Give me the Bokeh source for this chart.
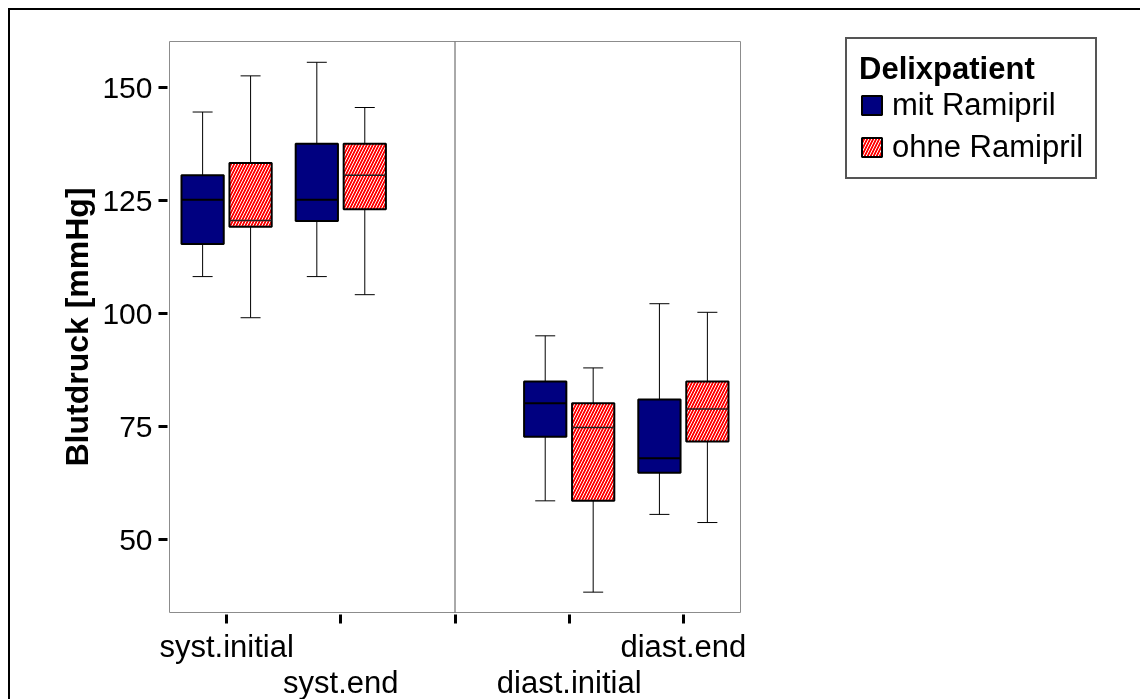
from bokeh.plotting import figure
from bokeh.models import (Range1d, FixedTicker, Span, Legend, LegendItem,
                          ColumnDataSource)
from bokeh.embed import file_html
from bokeh.resources import INLINE

# ---------------- data ----------------
categories = ["syst.initial", "syst.end", "diast.initial", "diast.end"]
cat_pos = [1, 2, 4, 5]          # position 3 is the empty separator slot
label_row = [0, 1, 1, 0]        # staggered tick labels: 0 = upper row, 1 = lower row
groups = ["mit Ramipril", "ohne Ramipril"]

mit_low = [108.2, 108.2, 58.6, 55.6]
mit_q1 = [115.4, 120.5, 72.8, 64.8]
mit_med = [125.2, 125.2, 80.2, 68.0]
mit_q3 = [130.6, 137.6, 85.0, 81.0]
mit_high = [144.6, 155.6, 95.1, 102.2]

ohne_low = [99.1, 104.2, 38.4, 53.8]
ohne_q1 = [119.2, 123.1, 58.6, 71.7]
ohne_med = [120.6, 130.6, 74.8, 78.9]
ohne_q3 = [133.3, 137.6, 80.2, 85.0]
ohne_high = [152.6, 145.6, 88.0, 100.3]

y_ticks = [50, 75, 100, 125, 150]
x_ticks = [1, 2, 3, 4, 5]

FONT = "Liberation Sans"
OFF = 0.21
BOX_W = 0.37
CAP_W = 0.175


def make_source(xs, low, q1, med, q3, high):
    return ColumnDataSource(dict(
        x=xs, low=low, q1=q1, med=med, q3=q3, high=high,
        bl=[x - BOX_W / 2 for x in xs], br=[x + BOX_W / 2 for x in xs],
        cl=[x - CAP_W / 2 for x in xs], cr=[x + CAP_W / 2 for x in xs],
    ))


src_mit = make_source([c - OFF for c in cat_pos], mit_low, mit_q1, mit_med, mit_q3, mit_high)
src_ohne = make_source([c + OFF for c in cat_pos], ohne_low, ohne_q1, ohne_med, ohne_q3, ohne_high)

p = figure(frame_width=571, frame_height=571,
           x_range=Range1d(0.5, 5.5), y_range=Range1d(33.9, 160.2),
           output_backend="svg", toolbar_location=None,
           min_border_left=159, min_border_right=520,
           min_border_top=31, min_border_bottom=100,
           styles={"position": "fixed", "top": "8px", "left": "8px",
                   "border-top": "2px solid black", "border-left": "2px solid black"})

p.grid.visible = False
p.outline_line_color = "#8c8c8c"
p.outline_line_width = 1
p.background_fill_color = "white"
p.border_fill_color = "white"

# separator line
p.add_layout(Span(location=3, dimension="height", line_color="#555555", line_width=1))

renderers = []
for src, fill, hatched in [(src_mit, "#000080", False), (src_ohne, "#ff0000", True)]:
    p.segment(x0="x", y0="q3", x1="x", y1="high", source=src, line_color="black", line_width=1)
    p.segment(x0="x", y0="q1", x1="x", y1="low", source=src, line_color="black", line_width=1)
    p.segment(x0="cl", y0="high", x1="cr", y1="high", source=src, line_color="black", line_width=1)
    p.segment(x0="cl", y0="low", x1="cr", y1="low", source=src, line_color="black", line_width=1)
    kw = dict(hatch_pattern="/", hatch_color="white", hatch_scale=6, hatch_weight=1) if hatched else {}
    r = p.vbar(x="x", width=BOX_W, top="q3", bottom="q1", source=src,
               fill_color=fill, line_color="black", line_width=2, **kw)
    renderers.append(r)
    p.segment(x0="bl", y0="med", x1="br", y1="med", source=src,
              line_color="black" if not hatched else "#222222",
              line_width=2 if not hatched else 1.5)

# legend (in the right-hand panel, offset from the frame)
legend = Legend(items=[LegendItem(label=g, renderers=[r]) for g, r in zip(groups, renderers)],
                title="Delixpatient", location=(105, 433), margin=0,
                title_text_font=FONT, title_text_font_style="bold", title_text_font_size="31px",
                title_text_color="black",
                label_text_font=FONT, label_text_font_size="31px", label_text_color="black",
                glyph_width=25, glyph_height=24, label_standoff=8,
                padding=12, spacing=6, title_standoff=0,
                border_line_color="#555555", border_line_width=2, border_line_alpha=1,
                background_fill_color="white", background_fill_alpha=1)
p.add_layout(legend, "right")

# x axis with staggered (two-row) category labels
xa = p.xaxis[0]
xa.ticker = FixedTicker(ticks=x_ticks)
overrides = {t: "" for t in x_ticks}
for pos, name, row in zip(cat_pos, categories, label_row):
    overrides[pos] = ("\n" * row) + name
xa.major_label_overrides = overrides
xa.major_label_text_line_height = 1.05
xa.axis_line_color = None
xa.major_tick_line_width = 3
xa.major_tick_line_color = "black"
xa.major_tick_out = 11
xa.major_tick_in = -2
xa.minor_tick_line_color = None
xa.major_label_text_font = FONT
xa.major_label_text_font_size = "31px"
xa.major_label_text_color = "black"
xa.major_label_standoff = 5

# y axis
ya = p.yaxis[0]
ya.ticker = FixedTicker(ticks=y_ticks)
ya.axis_line_color = None
ya.major_tick_line_width = 3
ya.major_tick_line_color = "black"
ya.major_tick_out = 11
ya.major_tick_in = -2
ya.minor_tick_line_color = None
ya.major_label_text_font = FONT
ya.major_label_text_font_size = "30px"
ya.major_label_text_color = "black"
ya.major_label_standoff = 6
ya.axis_label = "Blutdruck [mmHg]"
ya.axis_label_text_font = FONT
ya.axis_label_text_font_style = "bold"
ya.axis_label_text_font_size = "32px"
ya.axis_label_text_color = "black"
ya.axis_label_standoff = 4

open("out.html", "w").write(file_html(p, INLINE))
